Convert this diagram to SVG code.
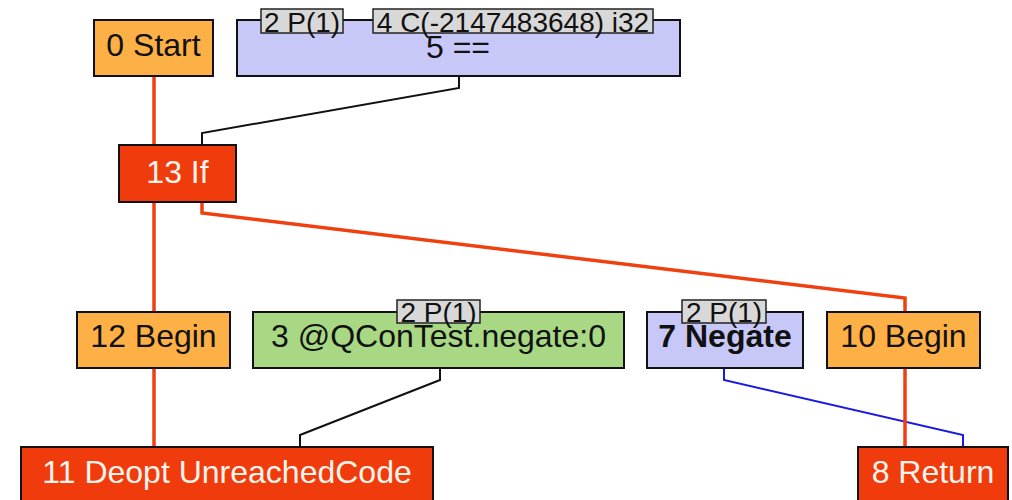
<svg xmlns="http://www.w3.org/2000/svg" width="1012" height="500" viewBox="0 0 1012 500">
<style>
.n{stroke:#111;stroke-width:2}
.or{fill:#fdb046}
.rd{fill:#f03c0c}
.bl{fill:#c8c8f8}
.gr{fill:#a8d884}
.lb{fill:#d8d8d8;stroke:#222;stroke-width:1.5}
text{font-family:"Liberation Sans",Arial,sans-serif;font-size:32px;text-anchor:middle;fill:#111}
text.l{font-size:28px}
.w{fill:#fff4ec}
.b{font-weight:bold}
.er{fill:none;stroke:#f04010;stroke-width:3.5}
.ek{fill:none;stroke:#111;stroke-width:2}
.eb{fill:none;stroke:#1a1ae0;stroke-width:2}
</style>
<rect width="1012" height="500" fill="#fff"/>
<g id="connectors">
<path class="er" d="M154,76V145"/>
<path class="ek" d="M459,76V88L202,133V145"/>
<path class="er" d="M154,202V312"/>
<path class="er" d="M202,202V213L905,298V312"/>
<path class="er" d="M154,368V447"/>
<path class="ek" d="M440,368V380L300,435V447"/>
<path class="eb" d="M724,368V380L963,435V447"/>
<path class="er" d="M905,368V447"/>
</g>
<g id="n0"><rect class="n or" x="94" y="20" width="119" height="56"/><text x="153.5" y="56">0 Start</text></g>
<g id="n5"><rect class="n bl" x="237" y="20" width="443" height="56"/><text x="458" y="58">5 ==</text>
<rect class="lb" x="261" y="9" width="82" height="24"/><text class="l" x="302" y="32">2 P(1)</text>
<rect class="lb" x="373" y="9" width="280" height="24"/><text class="l" x="513" y="32">4 C(-2147483648) i32</text></g>
<g id="n13"><rect class="n rd" x="119" y="145" width="117" height="57"/><text class="w" x="177.5" y="183">13 If</text></g>
<g id="n12"><rect class="n or" x="77" y="312" width="153" height="56"/><text x="153.5" y="347">12 Begin</text></g>
<g id="n3"><rect class="n gr" x="253" y="312" width="371" height="56"/><text x="438.5" y="347">3 @QConTest.negate:0</text>
<rect class="lb" x="397" y="300" width="83" height="23"/><text class="l" x="438.5" y="322">2 P(1)</text></g>
<g id="n7"><rect class="n bl" x="647" y="312" width="156" height="56"/><text class="b" x="725" y="347">7 Negate</text>
<rect class="lb" x="682" y="300" width="84" height="23"/><text class="l" x="724" y="322">2 P(1)</text></g>
<g id="n10"><rect class="n or" x="827" y="312" width="153" height="56"/><text x="903.5" y="347">10 Begin</text></g>
<g id="n11"><rect class="n rd" x="21" y="447" width="412" height="58"/><text class="w" x="227" y="483">11 Deopt UnreachedCode</text></g>
<g id="n8"><rect class="n rd" x="858" y="447" width="150" height="58"/><text class="w" x="933" y="483">8 Return</text></g>
</svg>
